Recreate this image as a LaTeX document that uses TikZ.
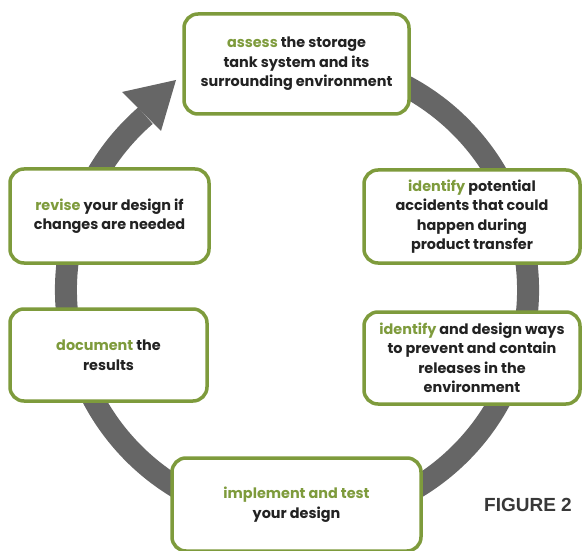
\documentclass[tikz,border=0pt]{standalone}
\usepackage{fontspec}
\setmainfont{Poppins}
\newfontfamily\captionfont{Liberation Sans}[BoldFont={Liberation Sans Bold}]
\usetikzlibrary{calc}
\definecolor{leafgreen}{HTML}{7E9B3C}
\definecolor{ringgray}{HTML}{666666}
\definecolor{inkgray}{HTML}{222222}
\newcommand{\kw}[1]{\textcolor{leafgreen}{#1}}

\begin{document}
\begin{tikzpicture}[x=1pt,y=1pt,
    stepbox/.style={draw=leafgreen, line width=3.5pt, fill=white, rounded corners=14pt,
      align=center, text=inkgray, inner sep=0pt,
      font=\fontsize{14.4}{19.5}\selectfont\bfseries},
    ring/.style={draw=ringgray, line width=22pt}]
\useasboundingbox (0,0) rectangle (584,550);
\clip (0,0) rectangle (584,550);
\coordinate (hub) at (297,260);
\draw[ring] ($(hub)+(70:231)$) arc[start angle=70, end angle=-229, radius=231];
\fill[ringgray] (122,458) -- (176,470) -- (161,419) -- cycle;
\node[stepbox, minimum width=225pt, minimum height=100pt] (assess) at (296.5,486)
  {\kw{assess} the storage\\tank system and its\\surrounding environment};
\node[stepbox, minimum width=216pt, minimum height=93pt] (accidents) at (472,333.5)
  {\kw{identify} potential\\accidents that could\\happen during\\product transfer};
\node[stepbox, minimum width=216pt, minimum height=92pt] (prevent) at (472,192)
  {\kw{identify} and design ways\\to prevent and contain\\releases in the\\environment};
\node[stepbox, minimum width=249pt, minimum height=93pt] (implement) at (296.5,45.5)
  {\kw{implement and test}\\your design};
\node[stepbox, minimum width=197pt, minimum height=92pt] (document) at (108.5,195)
  {\kw{document} the\\results};
\node[stepbox, minimum width=199pt, minimum height=94pt] (revise) at (109.5,334)
  {\kw{revise} your design if\\changes are needed};
\node[text=inkgray!90] (figlabel) at (528,45.5)
  {\captionfont\bfseries\fontsize{19}{19}\selectfont FIGURE 2};
\end{tikzpicture}
\end{document}
